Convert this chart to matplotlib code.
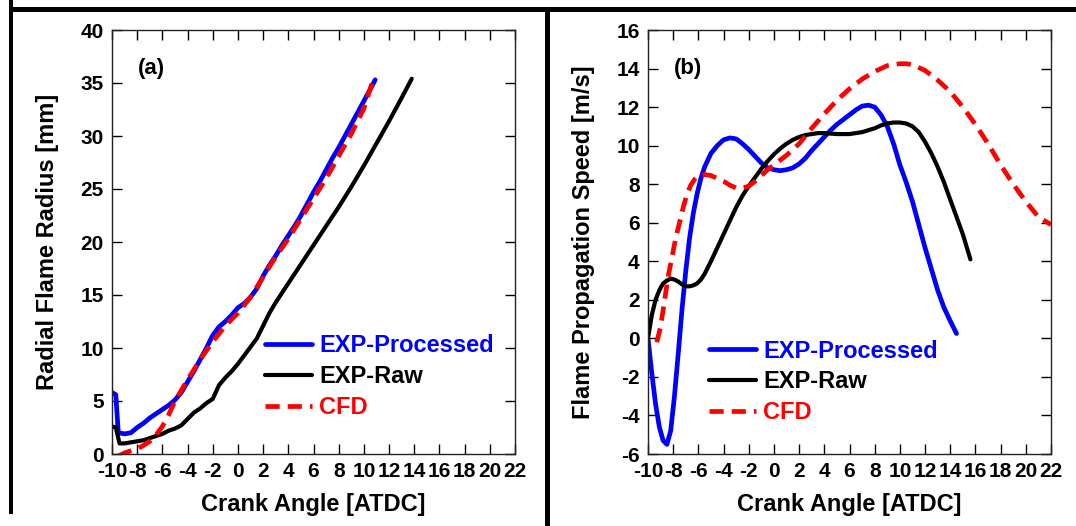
import matplotlib
matplotlib.use("Agg")
import matplotlib.pyplot as plt
from matplotlib.patches import Rectangle

plt.rcParams["font.family"] = ["Liberation Sans", "DejaVu Sans"]
plt.rcParams["font.weight"] = "bold"
plt.rcParams["axes.unicode_minus"] = False

# --- (a) radial flame radius [mm] vs crank angle ---
a_proc_x = [-10, -9.7, -9.5, -9, -8.5, -8, -7.5, -7, -6.5, -6, -5.5, -5, -4.5, -4, -3.5, -3,
            -2.5, -2, -1.5, -1, -0.5, 0, 0.5, 1, 1.5, 2, 2.5, 3, 3.5, 4, 4.5, 5, 5.5, 6,
            6.5, 7, 7.5, 8, 8.5, 9, 9.5, 10, 10.5, 10.9]
a_proc_y = [5.8, 5.6, 2.0, 1.9, 2.0, 2.5, 2.9, 3.4, 3.8, 4.2, 4.6, 5.1, 5.8, 6.8, 7.8, 8.9,
            10.0, 11.2, 12.0, 12.5, 13.1, 13.8, 14.2, 14.8, 15.6, 16.8, 17.8, 18.7, 19.7, 20.6,
            21.5, 22.5, 23.6, 24.7, 25.7, 26.8, 27.9, 28.9, 30.0, 31.1, 32.2, 33.3, 34.4, 35.3]

a_raw_x = [-10, -9.7, -9.4, -9, -8.5, -8, -7.5, -7, -6.5, -6, -5.5, -5, -4.5, -4, -3.5, -3,
           -2.5, -2, -1.5, -1, -0.5, 0, 0.5, 1, 1.5, 2, 2.5, 3, 3.5, 4, 5, 6, 7, 8, 9, 10,
           11, 12, 13, 13.8]
a_raw_y = [2.6, 2.5, 1.0, 1.0, 1.1, 1.2, 1.3, 1.5, 1.7, 1.9, 2.2, 2.4, 2.7, 3.3, 3.9, 4.3,
           4.8, 5.2, 6.5, 7.2, 7.8, 8.5, 9.3, 10.1, 10.9, 12.1, 13.3, 14.3, 15.2, 16.1, 17.9,
           19.7, 21.5, 23.3, 25.2, 27.2, 29.3, 31.4, 33.6, 35.4]

a_cfd_x = [-9.5, -9, -8.5, -8, -7.5, -7, -6.5, -6, -5.5, -5, -4, -3, -2, -1, 0, 1, 2, 3, 4,
           5, 6, 7, 8, 9, 10, 10.7]
a_cfd_y = [-0.2, 0.1, 0.3, 0.5, 0.8, 1.2, 1.8, 2.6, 3.7, 5.0, 7.0, 8.9, 10.6, 12.1, 13.3,
           14.8, 16.7, 18.6, 20.3, 22.2, 24.1, 26.0, 28.1, 30.2, 32.6, 35.2]

# --- (b) flame propagation speed [m/s] vs crank angle ---
b_proc_x = [-10, -9.7, -9.4, -9.1, -8.8, -8.5, -8.2, -7.9, -7.6, -7.3, -7.0, -6.7, -6.4, -6.1,
            -5.8, -5.5, -5.0, -4.5, -4.0, -3.5, -3.0, -2.5, -2.0, -1.5, -1.0, -0.5, 0, 0.5,
            1.0, 1.5, 2.0, 2.5, 3.0, 3.5, 4.0, 4.5, 5.0, 5.5, 6.0, 6.5, 7.0, 7.5, 8.0, 8.5,
            9.0, 9.5, 10.0, 10.5, 11.0, 11.5, 12.0, 12.5, 13.0, 13.5, 14.0, 14.5]
b_proc_y = [0, -1.8, -3.4, -4.6, -5.3, -5.5, -4.8, -3.0, -0.8, 1.5, 3.5, 5.2, 6.5, 7.5,
            8.3, 8.9, 9.6, 10.0, 10.3, 10.4, 10.35, 10.1, 9.8, 9.45, 9.1, 8.85, 8.75, 8.7,
            8.75, 8.85, 9.05, 9.35, 9.75, 10.1, 10.45, 10.8, 11.1, 11.35, 11.6, 11.85, 12.05,
            12.1, 12.0, 11.6, 11.0, 10.1, 9.0, 8.1, 7.1, 5.9, 4.7, 3.6, 2.5, 1.6, 0.9, 0.25]

b_raw_x = [-10, -9.7, -9.4, -9.1, -8.8, -8.5, -8.2, -7.9, -7.6, -7.3, -7.0, -6.7, -6.4, -6.1,
           -5.8, -5.5, -5.0, -4.5, -4.0, -3.5, -3.0, -2.5, -2.0, -1.5, -1.0, -0.5, 0, 0.5,
           1.0, 1.5, 2.0, 2.5, 3.0, 3.5, 4.0, 5.0, 6.0, 7.0, 7.5, 8.0, 8.5, 9.0, 9.5, 10.0,
           10.5, 11.0, 11.5, 12.0, 12.5, 13.0, 13.5, 14.0, 14.5, 15.0, 15.6]
b_raw_y = [0, 1.2, 2.0, 2.5, 2.85, 3.0, 3.1, 3.05, 2.95, 2.8, 2.7, 2.7, 2.75, 2.85,
           3.05, 3.35, 4.0, 4.7, 5.4, 6.1, 6.8, 7.4, 7.9, 8.35, 8.8, 9.2, 9.55, 9.85,
           10.1, 10.3, 10.45, 10.55, 10.6, 10.65, 10.65, 10.6, 10.6, 10.7, 10.8, 10.9, 11.05,
           11.15, 11.2, 11.2, 11.15, 11.0, 10.7, 10.2, 9.6, 8.9, 8.1, 7.2, 6.3, 5.4, 4.1]

b_cfd_x = [-9.3, -9.0, -8.7, -8.4, -8.1, -7.8, -7.5, -7.2, -6.9, -6.6, -6.3, -6.0, -5.5,
           -5.0, -4.5, -4.0, -3.5, -3.0, -2.5, -2.0, -1.5, -1.0, -0.5, 0, 0.5, 1.0, 2.0,
           3.0, 4.0, 5.0, 6.0, 7.0, 8.0, 9.0, 10.0, 10.5, 11.0, 12.0, 13.0, 14.0, 15.0,
           16.0, 17.0, 18.0, 19.0, 20.0, 21.0, 22.0]
b_cfd_y = [-0.2, 0.6, 1.9, 3.2, 4.2, 5.2, 6.0, 6.8, 7.5, 7.95, 8.25, 8.45, 8.5,
           8.45, 8.3, 8.15, 7.95, 7.8, 7.8, 7.9, 8.15, 8.45, 8.75, 9.0, 9.25, 9.5, 10.1,
           10.9, 11.65, 12.35, 12.95, 13.45, 13.85, 14.15, 14.25, 14.25, 14.2, 13.9, 13.4,
           12.8, 12.0, 11.1, 10.1, 9.0, 8.0, 7.1, 6.3, 5.9]

x_ticks = list(range(-10, 23, 2))
a_y_ticks = list(range(0, 41, 5))
b_y_ticks = list(range(-6, 17, 2))
labels = ["EXP-Processed", "EXP-Raw", "CFD"]

fig = plt.figure(figsize=(10.76, 5.26), dpi=100)

# black frame around the two panels
W, H = 1076, 526
for x0, y0, w, h in [(9, 0, 4, 514), (9, 7, 1067, 5), (545, 7, 5, 519)]:
    fig.add_artist(Rectangle((x0 / W, 1 - (y0 + h) / H), w / W, h / H,
                             transform=fig.transFigure, color="black", lw=0))

ax_a = fig.add_axes([112 / W, 1 - 454 / H, 403 / W, 424 / H])
ax_b = fig.add_axes([648 / W, 1 - 454 / H, 403 / W, 424 / H])


def style(ax, yticks, ylabel, tag):
    ax.set_xlim(-10, 22)
    ax.set_ylim(yticks[0], yticks[-1])
    ax.set_xticks(x_ticks)
    ax.set_yticks(yticks)
    ax.tick_params(direction="in", length=7, width=1, top=True, right=True,
                   labelsize=15)
    ax.tick_params(axis="x", pad=6)
    ax.tick_params(axis="y", pad=6)
    for lab in ax.get_xticklabels() + ax.get_yticklabels():
        lab.set_fontweight("bold")
    for sp in ax.spines.values():
        sp.set_linewidth(1)
        sp.set_color("#222222")
    ax.set_xlabel("Crank Angle [ATDC]", fontsize=17, fontweight="bold", va="center")
    ax.set_ylabel(ylabel, fontsize=17, fontweight="bold", va="center")
    ax.xaxis.set_label_coords(0.5, -0.12)
    ax.yaxis.set_label_coords(-0.16, 0.5)
    ax.text(0.065, 0.91, tag, transform=ax.transAxes, fontsize=16,
            fontweight="bold", va="center")


def curves(ax, proc, raw, cfd):
    ax.plot(*proc, color="#0000ff", lw=3.4, label=labels[0], solid_capstyle="round")
    ax.plot(*raw, color="black", lw=3.0, label=labels[1], solid_capstyle="round")
    ax.plot(*cfd, color="#ff0000", lw=3.4, ls=(0, (3.0, 1.7)), label=labels[2])


curves(ax_a, (a_proc_x, a_proc_y), (a_raw_x, a_raw_y), (a_cfd_x, a_cfd_y))
curves(ax_b, (b_proc_x, b_proc_y), (b_raw_x, b_raw_y), (b_cfd_x, b_cfd_y))
style(ax_a, a_y_ticks, "Radial Flame Radius [mm]", "(a)")
style(ax_b, b_y_ticks, "Flame Propagation Speed [m/s]", "(b)")

for ax, anchor in [(ax_a, (0.38, 0.282)), (ax_b, (0.151, 0.27))]:
    leg = ax.legend(loc="upper left", bbox_to_anchor=anchor, frameon=False,
                    fontsize=17, handlelength=2.0, handletextpad=0.3,
                    labelspacing=0.33, borderpad=0, borderaxespad=0,
                    labelcolor="linecolor")
    for t in leg.get_texts():
        t.set_fontweight("bold")

fig.savefig("out.png", dpi=100)
